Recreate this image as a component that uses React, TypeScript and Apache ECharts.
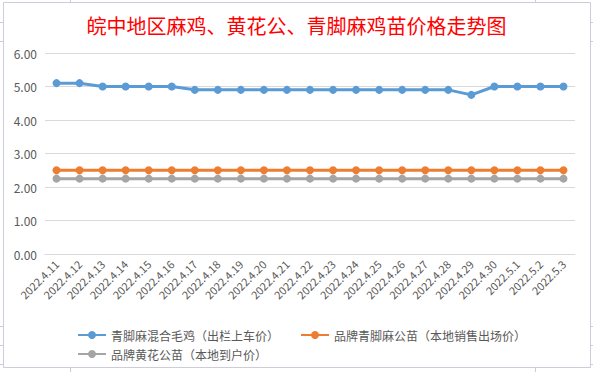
import React, { useEffect, useRef } from "react";
import * as echarts from "echarts";

const categories = [
  "2022.4.11", "2022.4.12", "2022.4.13", "2022.4.14", "2022.4.15", "2022.4.16",
  "2022.4.17", "2022.4.18", "2022.4.19", "2022.4.20", "2022.4.21", "2022.4.22",
  "2022.4.23", "2022.4.24", "2022.4.25", "2022.4.26", "2022.4.27", "2022.4.28",
  "2022.4.29", "2022.4.30", "2022.5.1", "2022.5.2", "2022.5.3",
];
const seriesNames = [
  "青脚麻混合毛鸡（出栏上车价）",
  "品牌青脚麻公苗（本地销售出场价）",
  "品牌黄花公苗（本地到户价）",
];
const blueValues = [5.1, 5.1, 5.0, 5.0, 5.0, 5.0, 4.9, 4.9, 4.9, 4.9, 4.9, 4.9, 4.9, 4.9, 4.9, 4.9, 4.9, 4.9, 4.75, 5.0, 5.0, 5.0, 5.0];
const orangeValues = [2.5, 2.5, 2.5, 2.5, 2.5, 2.5, 2.5, 2.5, 2.5, 2.5, 2.5, 2.5, 2.5, 2.5, 2.5, 2.5, 2.5, 2.5, 2.5, 2.5, 2.5, 2.5, 2.5];
const grayValues = [2.25, 2.25, 2.25, 2.25, 2.25, 2.25, 2.25, 2.25, 2.25, 2.25, 2.25, 2.25, 2.25, 2.25, 2.25, 2.25, 2.25, 2.25, 2.25, 2.25, 2.25, 2.25, 2.25];
const colors = ["#5B9BD5", "#ED7D31", "#A5A5A5"];
const titleText = "皖中地区麻鸡、黄花公、青脚麻鸡苗价格走势图";

export default function App() {
  const ref = useRef<HTMLDivElement>(null);
  useEffect(() => {
    if (!ref.current) return;
    const chart = echarts.init(ref.current, null, { renderer: "svg" });
    const font = "'Noto Sans CJK SC', 'Noto Sans', sans-serif";
    const frameColor = "#CDCDDA";
    const stub = (x1: number, y1: number, x2: number, y2: number) => ({
      type: "line",
      shape: { x1, y1, x2, y2 },
      style: { stroke: frameColor, lineWidth: 1 },
      silent: true,
    });
    const mk = (i: number, data: number[]) => ({
      name: seriesNames[i],
      type: "line",
      data,
      symbol: "circle",
      symbolSize: 8,
      lineStyle: { width: 3, color: colors[i] },
      itemStyle: { color: colors[i] },
      z: 10 - i,
    });
    chart.setOption({
      animation: false,
      backgroundColor: "#ffffff",
      color: colors,
      textStyle: { fontFamily: font },
      title: {
        text: titleText,
        left: "center",
        top: 10,
        textStyle: { color: "#FF0000", fontSize: 20, fontWeight: "normal", fontFamily: font },
      },
      graphic: [
        {
          type: "rect",
          shape: { x: 3.5, y: 2.5, width: 587, height: 365 },
          style: { fill: "none", stroke: frameColor, lineWidth: 1 },
          silent: true,
        },
        stub(70.5, 0, 70.5, 2),
        stub(535.5, 0, 535.5, 2),
        stub(70.5, 368, 70.5, 372),
        stub(535.5, 368, 535.5, 372),
        stub(0, 22.5, 3, 22.5),
        stub(0, 41.5, 3, 41.5),
        stub(0, 326.5, 3, 326.5),
        stub(0, 345.5, 3, 345.5),
        stub(0, 364.5, 3, 364.5),
        stub(591, 22.5, 593, 22.5),
        stub(591, 41.5, 593, 41.5),
        stub(591, 326.5, 593, 326.5),
        stub(591, 345.5, 593, 345.5),
        stub(591, 364.5, 593, 364.5),
      ],
      legend: [
        {
          data: [seriesNames[0], seriesNames[1]],
          left: 72,
          top: 324,
          itemWidth: 28,
          itemHeight: 10,
          itemGap: 21,
          textStyle: { color: "#595959", fontSize: 12, fontFamily: font },
        },
        {
          data: [seriesNames[2]],
          left: 72,
          top: 343,
          itemWidth: 28,
          itemHeight: 10,
          textStyle: { color: "#595959", fontSize: 12, fontFamily: font },
        },
      ],
      grid: { left: 45, right: 18, top: 53, bottom: 118, containLabel: false },
      xAxis: {
        type: "category",
        data: categories,
        boundaryGap: true,
        axisLine: { lineStyle: { color: "#D9D9D9" } },
        axisTick: { show: false },
        axisLabel: { rotate: 45, interval: 0, color: "#595959", fontSize: 11, margin: 8, fontFamily: font },
      },
      yAxis: {
        type: "value",
        min: 0,
        max: 6,
        interval: 1,
        axisLine: { show: false },
        axisTick: { show: false },
        splitLine: { lineStyle: { color: "#D9D9D9" } },
        axisLabel: {
          color: "#595959",
          fontSize: 12,
          margin: 8,
          fontFamily: font,
          formatter: (v: number) => v.toFixed(2),
        },
      },
      series: [mk(0, blueValues), mk(1, orangeValues), mk(2, grayValues)],
    });
    return () => chart.dispose();
  }, []);
  return (
    <div
      ref={ref}
      style={{ position: "fixed", left: 0, top: 0, width: 593, height: 372 }}
    />
  );
}
